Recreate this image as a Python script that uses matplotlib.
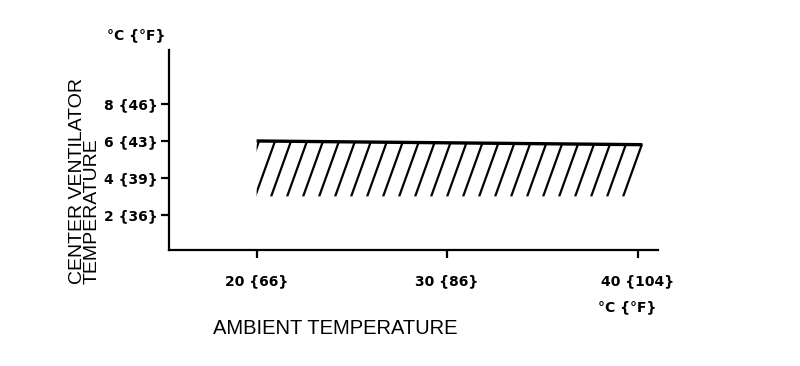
import matplotlib
matplotlib.use("Agg")
import matplotlib.pyplot as plt
import numpy as np

# acceptable center ventilator temperature band, deg C
band_top_x = [20.0, 40.25]
band_high = [6.0, 5.8]
band_low = [3.0, 3.0]

x_ticks = [20, 30, 40]
x_labels = ["20 {66}", "30 {86}", "40 {104}"]
y_ticks = [2, 4, 6, 8]
y_labels = ["2 {36}", "4 {39}", "6 {43}", "8 {46}"]

unit_label = "°C {°F}"
x_title = "AMBIENT TEMPERATURE"
y_title = "CENTER VENTILATOR\nTEMPERATURE"

# hatch look (data units)
HATCH_SLANT = 0.35   # x shift per unit of y
HATCH_STEP = 0.84    # spacing along x

fig = plt.figure(figsize=(8, 3.66), dpi=100)
ax = fig.add_axes([0.211, 0.317, 0.611, 0.546])

ax.set_xlim(15.39, 41.05)
ax.set_ylim(0.12, 10.9)

for side in ("top", "right"):
    ax.spines[side].set_visible(False)
for side in ("left", "bottom"):
    ax.spines[side].set_linewidth(1.6)

# clip region for the hatching: right edge runs along the hatch direction
right_top = band_top_x[1] + 0.08
right_bottom = right_top - HATCH_SLANT * (band_high[1] - band_low[1])
clip = ax.fill(
    [band_top_x[0], band_top_x[0], right_top, right_bottom],
    [band_low[0], band_high[0], band_high[1], band_low[1]],
    facecolor="none", edgecolor="none",
)[0]

bottom = min(band_low)
top = max(band_high) + 0.2
# hatch lines placed from the right-hand corner going left
for x_top in np.arange(band_top_x[1] - 0.03, band_top_x[0] - HATCH_STEP, -HATCH_STEP):
    x_bot = x_top - HATCH_SLANT * (band_high[1] - bottom)
    ln, = ax.plot([x_bot, x_bot + HATCH_SLANT * (top - bottom)], [bottom, top],
                  color="black", lw=1.6, solid_capstyle="butt")
    ln.set_clip_path(clip)

ax.plot(band_top_x, band_high, color="black", lw=2.4, solid_capstyle="butt")

ax.set_xticks(x_ticks)
ax.set_xticklabels(x_labels, fontweight="bold", fontsize=10)
ax.set_yticks(y_ticks)
ax.set_yticklabels(y_labels, fontweight="bold", fontsize=10)
ax.tick_params(axis="x", length=5.5, width=1.6, pad=12)
ax.tick_params(axis="y", length=5.5, width=1.6, pad=2.5)

fig.text(107 / 800, 1 - 35 / 366, unit_label, fontweight="bold", fontsize=10,
         ha="left", va="center")
fig.text(598 / 800, 1 - 307 / 366, unit_label, fontweight="bold", fontsize=10,
         ha="left", va="center")

fig.text(85 / 800, 1 - 181 / 366, y_title, family="Liberation Sans", fontsize=14,
         rotation=90, ha="center", va="center", multialignment="left",
         linespacing=0.85)
fig.text(213 / 800, 1 - 328 / 366, x_title, family="Liberation Sans", fontsize=14.5,
         ha="left", va="center")

fig.savefig("out.png", dpi=100)
